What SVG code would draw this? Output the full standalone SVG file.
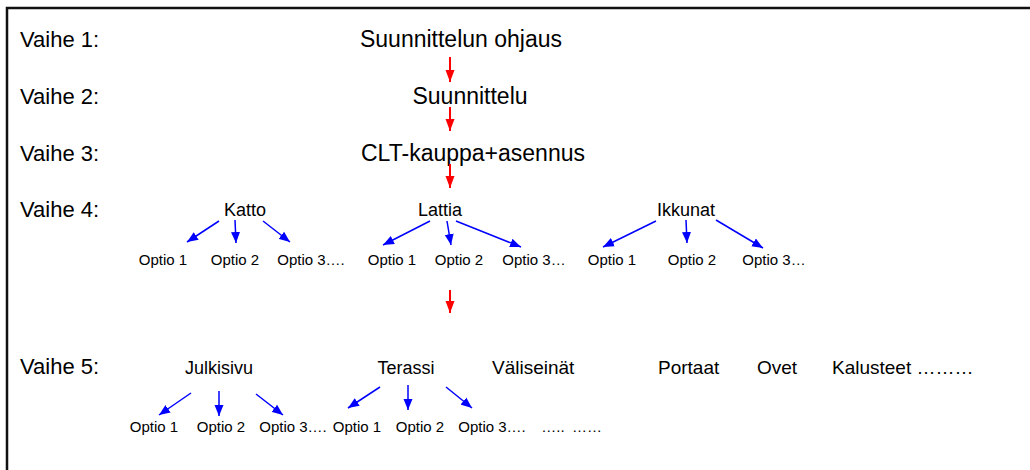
<svg xmlns="http://www.w3.org/2000/svg" width="1030" height="470" viewBox="0 0 1030 470">
<style>
text{font-family:"Liberation Sans",Arial,sans-serif;fill:#000}
.lbl{font-size:22px}
.main{font-size:23px;text-anchor:middle}
.sub{font-size:18px;text-anchor:middle}
.sub5{font-size:19px}
.opt{font-size:15px;text-anchor:middle}
.red{stroke:#ff0000;stroke-width:2;fill:none}
.blue{stroke:#0000ff;stroke-width:1.5;fill:none}
</style>
<defs>
<marker id="ra" markerUnits="userSpaceOnUse" markerWidth="13" markerHeight="10" refX="12" refY="5" orient="auto">
<path d="M0,0.5 L12,5 L0,9.5 z" fill="#ff0000"/>
</marker>
<marker id="ba" markerUnits="userSpaceOnUse" markerWidth="12" markerHeight="10" refX="11" refY="5" orient="auto">
<path d="M0,0.5 L11,5 L0,9.5 z" fill="#0000ff"/>
</marker>
</defs>
<rect width="1030" height="470" fill="#fff"/>
<path d="M7,470 V8 H1030" fill="none" stroke="#111" stroke-width="2.5"/>

<g id="labels">
<text class="lbl" x="20" y="47">Vaihe 1:</text>
<text class="lbl" x="20" y="104">Vaihe 2:</text>
<text class="lbl" x="20" y="161">Vaihe 3:</text>
<text class="lbl" x="20" y="217">Vaihe 4:</text>
<text class="lbl" x="20" y="374">Vaihe 5:</text>
</g>

<g id="n-ohjaus"><text class="main" x="461" y="47">Suunnittelun ohjaus</text></g>
<g id="n-suunnittelu"><text class="main" x="470" y="104">Suunnittelu</text></g>
<g id="n-clt"><text class="main" x="473" y="161">CLT-kauppa+asennus</text></g>

<g id="n-katto"><text class="sub" x="245" y="216">Katto</text></g>
<g id="n-lattia"><text class="sub" x="440" y="216">Lattia</text></g>
<g id="n-ikkunat"><text class="sub" x="686" y="216">Ikkunat</text></g>

<g id="n-katto-opt">
<text class="opt" x="163" y="265">Optio 1</text>
<text class="opt" x="235" y="265">Optio 2</text>
<text class="opt" x="311" y="265">Optio 3….</text>
</g>
<g id="n-lattia-opt">
<text class="opt" x="392" y="265">Optio 1</text>
<text class="opt" x="459" y="265">Optio 2</text>
<text class="opt" x="534" y="265">Optio 3…</text>
</g>
<g id="n-ikkunat-opt">
<text class="opt" x="612" y="265">Optio 1</text>
<text class="opt" x="692" y="265">Optio 2</text>
<text class="opt" x="774" y="265">Optio 3…</text>
</g>

<g id="n-julkisivu"><text class="sub" x="219" y="374">Julkisivu</text></g>
<g id="n-terassi"><text class="sub" x="406" y="374">Terassi</text></g>
<g id="n-valiseinat"><text class="sub5" x="492" y="374">Väliseinät</text></g>
<g id="n-portaat"><text class="sub5" x="658" y="374">Portaat</text></g>
<g id="n-ovet"><text class="sub5" x="757" y="374">Ovet</text></g>
<g id="n-kalusteet"><text class="sub5" x="832" y="374">Kalusteet ………</text></g>

<g id="n-julkisivu-opt">
<text class="opt" x="154" y="432">Optio 1</text>
<text class="opt" x="221" y="432">Optio 2</text>
<text class="opt" x="293" y="432">Optio 3….</text>
</g>
<g id="n-terassi-opt">
<text class="opt" x="357" y="432">Optio 1</text>
<text class="opt" x="420" y="432">Optio 2</text>
<text class="opt" x="492" y="432">Optio 3….</text>
<text class="opt" x="553" y="432">…..</text>
<text class="opt" x="587" y="432">……</text>
</g>

<g id="connectors">
<line class="red" x1="450" y1="57" x2="450" y2="82" marker-end="url(#ra)"/>
<line class="red" x1="450" y1="107" x2="450" y2="131" marker-end="url(#ra)"/>
<line class="red" x1="450" y1="164" x2="450" y2="188" marker-end="url(#ra)"/>
<line class="red" x1="450" y1="290" x2="450" y2="313" marker-end="url(#ra)"/>

<line class="blue" x1="219" y1="221" x2="187" y2="242" marker-end="url(#ba)"/>
<line class="blue" x1="235" y1="220" x2="236" y2="243" marker-end="url(#ba)"/>
<line class="blue" x1="263" y1="221" x2="290" y2="242" marker-end="url(#ba)"/>

<line class="blue" x1="430" y1="221" x2="383" y2="245" marker-end="url(#ba)"/>
<line class="blue" x1="447" y1="221" x2="451" y2="245" marker-end="url(#ba)"/>
<line class="blue" x1="456" y1="221" x2="521" y2="247" marker-end="url(#ba)"/>

<line class="blue" x1="656" y1="221" x2="603" y2="247" marker-end="url(#ba)"/>
<line class="blue" x1="686" y1="220" x2="687" y2="243" marker-end="url(#ba)"/>
<line class="blue" x1="716" y1="220" x2="763" y2="248" marker-end="url(#ba)"/>

<line class="blue" x1="191" y1="393" x2="159" y2="415" marker-end="url(#ba)"/>
<line class="blue" x1="219" y1="391" x2="219" y2="416" marker-end="url(#ba)"/>
<line class="blue" x1="256" y1="394" x2="283" y2="415" marker-end="url(#ba)"/>

<line class="blue" x1="380" y1="387" x2="348" y2="408" marker-end="url(#ba)"/>
<line class="blue" x1="408" y1="385" x2="408" y2="410" marker-end="url(#ba)"/>
<line class="blue" x1="446" y1="387" x2="472" y2="408" marker-end="url(#ba)"/>
</g>
</svg>
